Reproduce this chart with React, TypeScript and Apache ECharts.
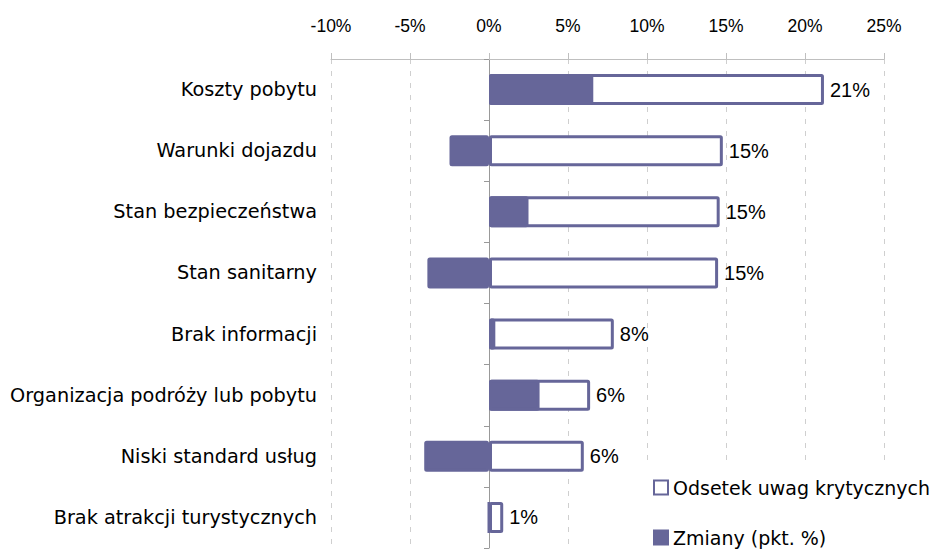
import React, { useEffect, useRef } from "react";
import * as echarts from "echarts";

const categories = [
  "Koszty pobytu",
  "Warunki dojazdu",
  "Stan bezpieczeństwa",
  "Stan sanitarny",
  "Brak informacji",
  "Organizacja podróży lub pobytu",
  "Niski standard usług",
  "Brak atrakcji turystycznych",
];
const odsetek = [21.2, 14.8, 14.6, 14.5, 7.9, 6.4, 6.0, 0.9];
const zmiany = [6.6, -2.5, 2.5, -3.9, 0.4, 3.2, -4.1, 0];
const seriesNames = ["Odsetek uwag krytycznych", "Zmiany (pkt. %)"];
const xTicks = { min: -10, max: 25, interval: 5 };

const PURPLE = "#666699";

export default function App() {
  const ref = useRef<HTMLDivElement>(null);
  useEffect(() => {
    if (!ref.current) return;
    const chart = echarts.init(ref.current, null, { renderer: "svg" });
    const legendText = { color: "#000", fontFamily: "DejaVu Sans", fontSize: 19 };
    chart.setOption({
      animation: false,
      backgroundColor: "#fff",
      grid: { left: 331, right: 57, top: 59, bottom: 2, containLabel: false },
      xAxis: {
        type: "value",
        position: "top",
        min: xTicks.min,
        max: xTicks.max,
        interval: xTicks.interval,
        axisLine: { show: true, onZero: false, lineStyle: { color: "#bfbfbf", width: 1 } },
        axisTick: { show: true, length: 6, lineStyle: { color: "#bfbfbf" } },
        axisLabel: {
          formatter: (v: number) => v + "%",
          color: "#000",
          fontFamily: "Liberation Sans",
          fontSize: 17.5,
          margin: 24,
        },
        splitLine: { show: true, lineStyle: { color: "#cfcfcf", type: [5, 7], width: 1 } },
      },
      yAxis: [
        {
          type: "category",
          data: categories,
          inverse: true,
          position: "left",
          axisLine: { show: false, onZero: false },
          axisTick: { show: false },
          axisLabel: {
            color: "#000",
            fontFamily: "DejaVu Sans",
            fontSize: 19.3,
            margin: 14,
          },
          splitLine: { show: false },
        },
        {
          type: "category",
          data: categories,
          inverse: true,
          position: "left",
          axisLine: { show: true, onZero: true, lineStyle: { color: "#999999", width: 1 } },
          axisTick: { show: true, length: 5, lineStyle: { color: "#999999" } },
          axisLabel: { show: false },
          splitLine: { show: false },
        },
      ],
      graphic: [
        {
          type: "rect",
          z: 1,
          shape: { x: 640, y: 462, width: 301, height: 88 },
          style: { fill: "#fff" },
        },
      ],
      legend: [
        {
          orient: "vertical",
          left: 653,
          top: 478,
          padding: 0,
          icon: "rect",
          itemWidth: 14,
          itemHeight: 14,
          itemGap: 6,
          data: [seriesNames[0]],
          textStyle: legendText,
        },
        {
          orient: "vertical",
          left: 653,
          top: 528,
          padding: 0,
          icon: "rect",
          itemWidth: 14,
          itemHeight: 14,
          itemGap: 6,
          data: [seriesNames[1]],
          textStyle: legendText,
        },
      ],
      series: [
        {
          name: seriesNames[0],
          type: "bar",
          yAxisIndex: 0,
          data: odsetek,
          barWidth: 31,
          barGap: "-100%",
          itemStyle: { color: "#fff", borderColor: PURPLE, borderWidth: 3, borderRadius: 1 },
          label: {
            show: true,
            position: "right",
            distance: 6,
            formatter: (p: any) => Math.round(p.value) + "%",
            color: "#000",
            fontFamily: "Liberation Sans",
            fontSize: 20,
          },
          z: 2,
        },
        {
          name: seriesNames[1],
          type: "bar",
          yAxisIndex: 0,
          data: zmiany,
          barWidth: 31,
          barGap: "-100%",
          itemStyle: { color: PURPLE, borderColor: PURPLE, borderWidth: 3, borderRadius: 1 },
          z: 3,
        },
      ],
    });
    return () => chart.dispose();
  }, []);
  return <div ref={ref} style={{ width: 941, height: 550, position: "absolute", left: 0, top: 0 }} />;
}
